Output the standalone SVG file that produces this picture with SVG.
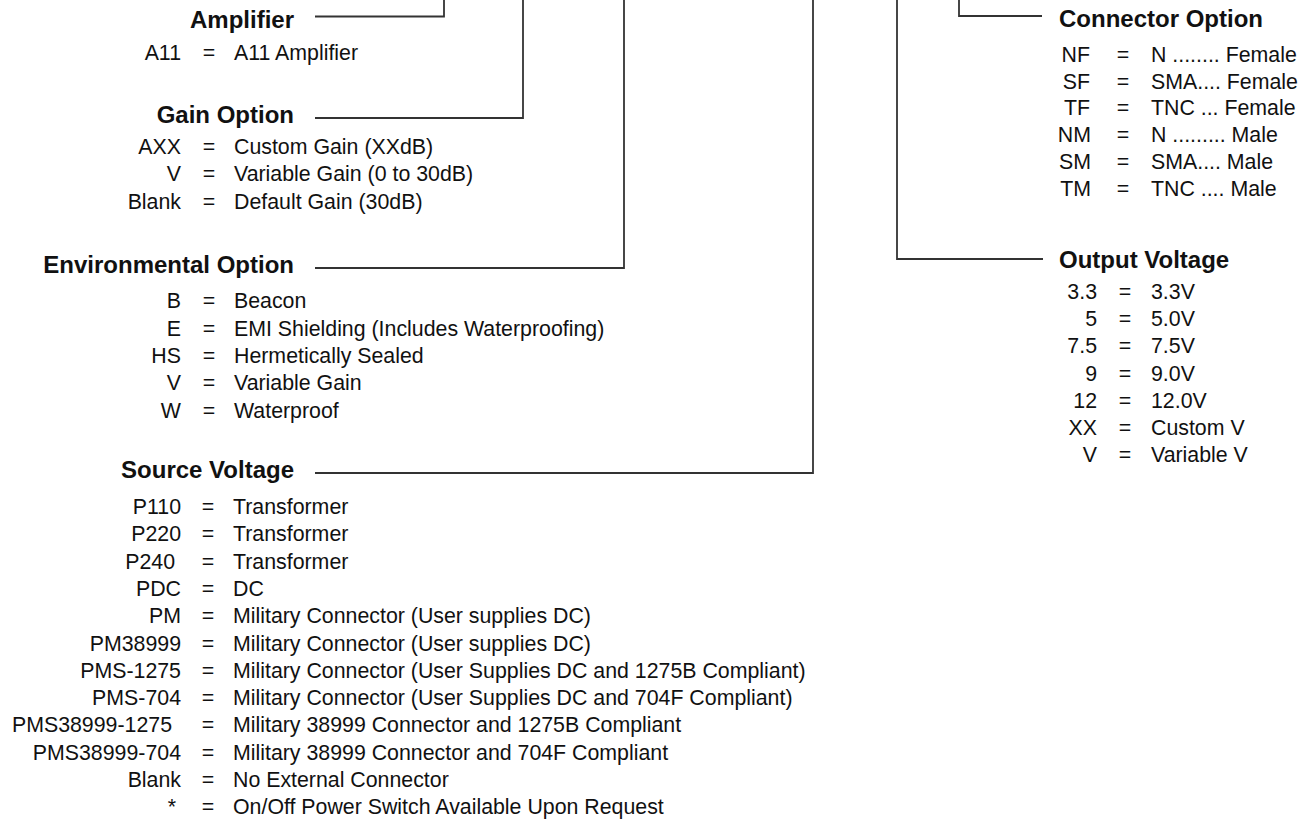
<svg xmlns="http://www.w3.org/2000/svg" width="1313" height="821" viewBox="0 0 1313 821">
<style>
text{font-family:"Liberation Sans",Arial,Helvetica,sans-serif;fill:#111}
.h{font-size:24px;font-weight:bold}
.t{font-size:21.33px}
.k{text-anchor:end}
.e{text-anchor:middle}
.c{fill:none;stroke:#333;stroke-width:1.8}
</style>
<rect width="1313" height="821" fill="#fff"/>
<g id="connectors">
<polyline class="c" points="315,16.5 444,16.5 444,0"/>
<polyline class="c" points="315,118 523,118 523,0"/>
<polyline class="c" points="315,268 624,268 624,0"/>
<polyline class="c" points="315,473 813,473 813,0"/>
<polyline class="c" points="1043,259 897,259 897,0"/>
<polyline class="c" points="1042,16 959,16 959,0"/>
</g>
<g id="amplifier">
<text class="h k" x="294" y="28">Amplifier</text>
<text class="t k" x="181" y="60">A11</text><text class="t e" x="209" y="60">=</text><text class="t" x="234" y="60">A11 Amplifier</text>
</g>
<g id="gain-option">
<text class="h k" x="294" y="123">Gain Option</text>
<text class="t k" x="181" y="154">AXX</text><text class="t e" x="209" y="154">=</text><text class="t" x="234" y="154">Custom Gain (XXdB)</text>
<text class="t k" x="181" y="181.3">V</text><text class="t e" x="209" y="181.3">=</text><text class="t" x="234" y="181.3">Variable Gain (0 to 30dB)</text>
<text class="t k" x="181" y="208.6">Blank</text><text class="t e" x="209" y="208.6">=</text><text class="t" x="234" y="208.6">Default Gain (30dB)</text>
</g>
<g id="environmental-option">
<text class="h k" x="294" y="273">Environmental Option</text>
<text class="t k" x="181" y="308.3">B</text><text class="t e" x="209" y="308.3">=</text><text class="t" x="234" y="308.3">Beacon</text>
<text class="t k" x="181" y="335.6">E</text><text class="t e" x="209" y="335.6">=</text><text class="t" x="234" y="335.6">EMI Shielding (Includes Waterproofing)</text>
<text class="t k" x="181" y="362.9">HS</text><text class="t e" x="209" y="362.9">=</text><text class="t" x="234" y="362.9">Hermetically Sealed</text>
<text class="t k" x="181" y="390.2">V</text><text class="t e" x="209" y="390.2">=</text><text class="t" x="234" y="390.2">Variable Gain</text>
<text class="t k" x="181" y="417.5">W</text><text class="t e" x="209" y="417.5">=</text><text class="t" x="234" y="417.5">Waterproof</text>
</g>
<g id="source-voltage">
<text class="h k" x="294" y="478">Source Voltage</text>
<text class="t k" x="181" y="514">P110</text><text class="t e" x="208" y="514">=</text><text class="t" x="233" y="514">Transformer</text>
<text class="t k" x="181" y="541.3">P220</text><text class="t e" x="208" y="541.3">=</text><text class="t" x="233" y="541.3">Transformer</text>
<text class="t k" x="175" y="568.6">P240</text><text class="t e" x="208" y="568.6">=</text><text class="t" x="233" y="568.6">Transformer</text>
<text class="t k" x="181" y="595.9">PDC</text><text class="t e" x="208" y="595.9">=</text><text class="t" x="233" y="595.9">DC</text>
<text class="t k" x="181" y="623.2">PM</text><text class="t e" x="208" y="623.2">=</text><text class="t" x="233" y="623.2">Military Connector (User supplies DC)</text>
<text class="t k" x="181" y="650.5">PM38999</text><text class="t e" x="208" y="650.5">=</text><text class="t" x="233" y="650.5">Military Connector (User supplies DC)</text>
<text class="t k" x="181" y="677.8">PMS-1275</text><text class="t e" x="208" y="677.8">=</text><text class="t" x="233" y="677.8">Military Connector (User Supplies DC and 1275B Compliant)</text>
<text class="t k" x="181" y="705.1">PMS-704</text><text class="t e" x="208" y="705.1">=</text><text class="t" x="233" y="705.1">Military Connector (User Supplies DC and 704F Compliant)</text>
<text class="t k" x="172" y="732.4">PMS38999-1275</text><text class="t e" x="208" y="732.4">=</text><text class="t" x="233" y="732.4">Military 38999 Connector and 1275B Compliant</text>
<text class="t k" x="181" y="759.7">PMS38999-704</text><text class="t e" x="208" y="759.7">=</text><text class="t" x="233" y="759.7">Military 38999 Connector and 704F Compliant</text>
<text class="t k" x="181" y="787">Blank</text><text class="t e" x="208" y="787">=</text><text class="t" x="233" y="787">No External Connector</text>
<text class="t k" x="176" y="814.3">*</text><text class="t e" x="208" y="814.3">=</text><text class="t" x="233" y="814.3">On/Off Power Switch Available Upon Request</text>
</g>
<g id="connector-option">
<text class="h" x="1059" y="27">Connector Option</text>
<text class="t k" x="1090" y="61.7">NF</text><text class="t e" x="1123" y="61.7">=</text><text class="t" x="1151" y="61.7">N ........ Female</text>
<text class="t k" x="1090" y="88.5">SF</text><text class="t e" x="1123" y="88.5">=</text><text class="t" x="1151" y="88.5">SMA.... Female</text>
<text class="t k" x="1090" y="115.3">TF</text><text class="t e" x="1123" y="115.3">=</text><text class="t" x="1151" y="115.3">TNC ... Female</text>
<text class="t k" x="1091" y="142.1">NM</text><text class="t e" x="1123" y="142.1">=</text><text class="t" x="1151" y="142.1">N ......... Male</text>
<text class="t k" x="1091" y="168.9">SM</text><text class="t e" x="1123" y="168.9">=</text><text class="t" x="1151" y="168.9">SMA.... Male</text>
<text class="t k" x="1091" y="195.7">TM</text><text class="t e" x="1123" y="195.7">=</text><text class="t" x="1151" y="195.7">TNC .... Male</text>
</g>
<g id="output-voltage">
<text class="h" x="1059" y="268">Output Voltage</text>
<text class="t k" x="1097" y="299">3.3</text><text class="t e" x="1125" y="299">=</text><text class="t" x="1151" y="299">3.3V</text>
<text class="t k" x="1097" y="326.2">5</text><text class="t e" x="1125" y="326.2">=</text><text class="t" x="1151" y="326.2">5.0V</text>
<text class="t k" x="1097" y="353.4">7.5</text><text class="t e" x="1125" y="353.4">=</text><text class="t" x="1151" y="353.4">7.5V</text>
<text class="t k" x="1097" y="380.6">9</text><text class="t e" x="1125" y="380.6">=</text><text class="t" x="1151" y="380.6">9.0V</text>
<text class="t k" x="1097" y="407.8">12</text><text class="t e" x="1125" y="407.8">=</text><text class="t" x="1151" y="407.8">12.0V</text>
<text class="t k" x="1097" y="435">XX</text><text class="t e" x="1125" y="435">=</text><text class="t" x="1151" y="435">Custom V</text>
<text class="t k" x="1097" y="462.2">V</text><text class="t e" x="1125" y="462.2">=</text><text class="t" x="1151" y="462.2">Variable V</text>
</g>
</svg>
